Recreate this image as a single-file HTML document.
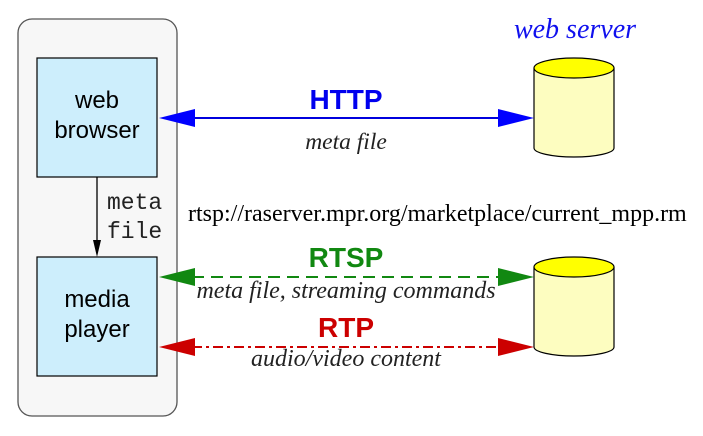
<!DOCTYPE html>
<html><head><meta charset="utf-8"><style>html,body{margin:0;padding:0;background:#fff}svg{display:block}</style></head>
<body>
<svg width="703" height="436" viewBox="0 0 703 436" xmlns="http://www.w3.org/2000/svg">
<rect x="18" y="19" width="159" height="397" rx="14" fill="#f7f7f7" stroke="#555" stroke-width="1.3"/>
<rect x="37" y="58" width="120" height="119" fill="#cdeefc" stroke="#000" stroke-width="1.2"/>
<rect x="37" y="257" width="120" height="119" fill="#cdeefc" stroke="#000" stroke-width="1.2"/>
<g font-family="Liberation Sans, sans-serif" font-size="24" text-anchor="middle" fill="#000">
<text x="97" y="108">web</text><text x="97" y="138">browser</text>
<text x="97" y="307">media</text><text x="97" y="337">player</text>
</g>
<line x1="97" y1="177" x2="97" y2="242" stroke="#000" stroke-width="1.3"/>
<polygon points="93,240 101,240 97,257" fill="#000"/>
<g font-family="Liberation Mono, monospace" font-size="23" fill="#222">
<text x="107" y="209">meta</text><text x="107" y="238">file</text>
</g>
<g stroke="#000" stroke-width="1.2">
<path d="M534,68 L534,148 A40,9 0 0 0 614,148 L614,68" fill="#fdfdc0"/>
<ellipse cx="574" cy="68" rx="40" ry="10" fill="#ffff00"/>
<path d="M534,267 L534,347 A40,9 0 0 0 614,347 L614,267" fill="#fdfdc0"/>
<ellipse cx="574" cy="267" rx="40" ry="10" fill="#ffff00"/>
</g>
<text x="575" y="38" font-family="Liberation Serif, serif" font-style="italic" font-size="28" fill="#1010ee" text-anchor="middle">web server</text>
<line x1="190" y1="118" x2="500" y2="118" stroke="#0000dd" stroke-width="2"/>
<polygon points="159,118 195,109 195,127" fill="#0000ff"/>
<polygon points="534,118 498,109 498,127" fill="#0000ff"/>
<text x="346" y="109" font-family="Liberation Sans, sans-serif" font-weight="bold" font-size="28" fill="#0000ee" text-anchor="middle">HTTP</text>
<text x="346" y="149" font-family="Liberation Serif, serif" font-style="italic" font-size="23.5" fill="#222" text-anchor="middle">meta file</text>
<text x="188" y="221" font-family="Liberation Serif, serif" font-size="24" fill="#000">rtsp://raserver.mpr.org/marketplace/current_mpp.rm</text>
<line x1="192" y1="277" x2="500" y2="277" stroke="#118811" stroke-width="2" stroke-dasharray="12,7"/>
<polygon points="159,277 195,268 195,286" fill="#118811"/>
<polygon points="534,277 498,268 498,286" fill="#118811"/>
<text x="346" y="267" font-family="Liberation Sans, sans-serif" font-weight="bold" font-size="28" fill="#118811" text-anchor="middle">RTSP</text>
<text x="346" y="298" font-family="Liberation Serif, serif" font-style="italic" font-size="24" fill="#222" text-anchor="middle">meta file, streaming commands</text>
<line x1="192" y1="347" x2="500" y2="347" stroke="#cc0000" stroke-width="2" stroke-dasharray="10,4,3,4"/>
<polygon points="159,347 195,338 195,356" fill="#cc0000"/>
<polygon points="534,347 498,338 498,356" fill="#cc0000"/>
<text x="346" y="337" font-family="Liberation Sans, sans-serif" font-weight="bold" font-size="28" fill="#cc0000" text-anchor="middle">RTP</text>
<text x="346" y="366" font-family="Liberation Serif, serif" font-style="italic" font-size="24" fill="#222" text-anchor="middle">audio/video content</text>
</svg>
</body></html>
